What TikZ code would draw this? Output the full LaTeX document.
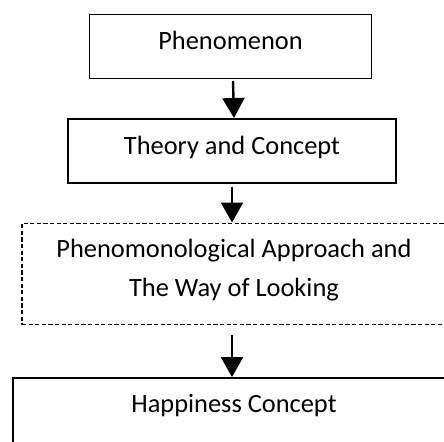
\documentclass[tikz,border=0pt]{standalone}
\usepackage{fontspec}
\setmainfont{Carlito}
\usetikzlibrary{arrows.meta}
\begin{document}
\begin{tikzpicture}[x=0.5pt,y=-0.5pt,
  box/.style={draw=black, line width=0.8pt, anchor=north, inner xsep=0pt, inner ysep=0pt,
    font=\fontsize{13.2}{19.5}\selectfont, align=center},
  dbox/.style={box, line width=0.7pt, dash pattern=on 2.1pt off 1.2pt},
  flow/.style={line width=1.2pt, -{Triangle[width=11pt,length=10pt]}}]
\useasboundingbox (0,0) rectangle (444,441);
\node[box, minimum width=282*0.5pt, text height=35.5*0.5pt, text depth=28.5*0.5pt] (b1) at (230.5,13.5) {Phenomenon};
\node[box, minimum width=328*0.5pt, text height=36*0.5pt, text depth=28*0.5pt] (b2) at (232,118) {Theory and Concept};
\node[dbox, minimum width=424*0.5pt] (b3) at (234,222.5) {\rule{0pt}{17.25pt}Phenomonological Approach and\\The Way of Looking\rule[-14pt]{0pt}{14pt}};
\node[box, minimum width=442*0.5pt, text height=35*0.5pt, text depth=60*0.5pt] (b4) at (234,377) {Happiness Concept};
\draw[flow] ([xshift=2.5*0.5pt,yshift=-1pt]b1.south) -- ([xshift=1pt]b2.north);
\draw[flow] ([yshift=-1.5pt]b2.south) -- (b2.south |- b3.north);
\draw[flow] ([yshift=-5pt]b3.south -| b2.south) -- (b2.south |- b4.north);
\end{tikzpicture}
\end{document}
